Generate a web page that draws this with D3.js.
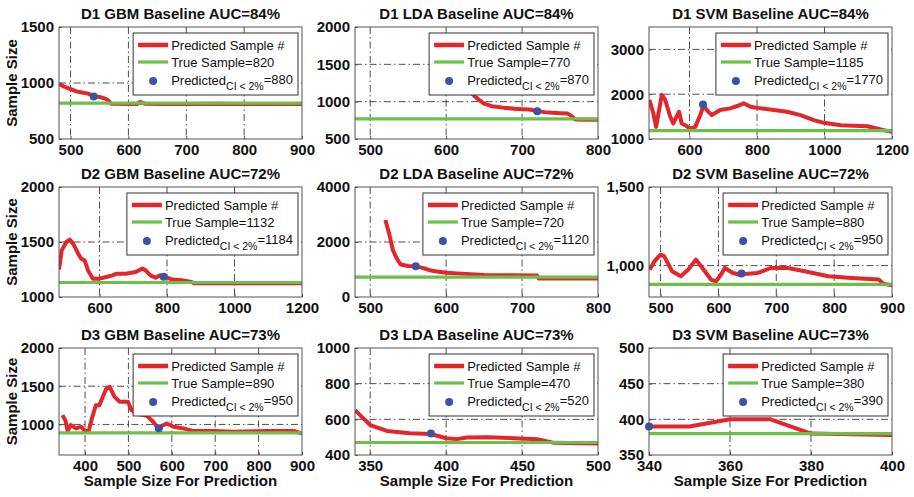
<!DOCTYPE html>
<html>
<head>
<meta charset="utf-8">
<script src="https://cdn.jsdelivr.net/npm/d3@7"></script>
<style>
body { margin: 0; background: #fff; }
text { font-family: Arial, "Liberation Sans", sans-serif; }
</style>
</head>
<body>
<script>
//Datos de cada panel (orden: D1 GBM, D1 LDA, D1 SVM, D2 ..., D3 ...)
var titulos = ["D1 GBM Baseline AUC=84%", "D1 LDA Baseline AUC=84%", "D1 SVM Baseline AUC=84%",
               "D2 GBM Baseline AUC=72%", "D2 LDA Baseline AUC=72%", "D2 SVM Baseline AUC=72%",
               "D3 GBM Baseline AUC=73%", "D3 LDA Baseline AUC=73%", "D3 SVM Baseline AUC=73%"];
var muestraReal = [820, 770, 1185, 1132, 720, 880, 890, 470, 380];
var prediccionCI = [880, 870, 1770, 1184, 1120, 950, 950, 520, 390];
var puntoX = [540, 720, 640, 790, 560, 640, 570, 390, 340];

var dominiosX = [[480, 900], [480, 800], [480, 1200], [480, 1200], [480, 800], [480, 900], [340, 900], [340, 500], [340, 400]];
var dominiosY = [[500, 1500], [500, 2000], [1000, 3500], [1000, 2000], [0, 4000], [800, 1500], [600, 2000], [400, 1000], [350, 500]];
var ticksX = [[500, 600, 700, 800, 900], [500, 600, 700, 800], [600, 800, 1000, 1200],
              [600, 800, 1000, 1200], [500, 600, 700, 800], [500, 600, 700, 800, 900],
              [400, 500, 600, 700, 800, 900], [350, 400, 450, 500], [340, 360, 380, 400]];
var ticksY = [[500, 1000, 1500], [500, 1000, 1500, 2000], [1000, 2000, 3000],
              [1000, 1500, 2000], [0, 2000, 4000], [1000, 1500],
              [1000, 1500, 2000], [400, 600, 800, 1000], [350, 400, 450, 500]];

//Curvas de tamaño de muestra predicho [x, y]
var predD1GBM = [[480, 990], [490, 965], [500, 945], [510, 925], [520, 915], [530, 905], [540, 885], [550, 875], [560, 860], [566, 840], [570, 815], [600, 812], [615, 812], [620, 832], [628, 815], [660, 812], [700, 812], [750, 815], [800, 812], [850, 812], [900, 812]];
var predD1LDA = [[610, 1500], [620, 1300], [630, 1150], [640, 1050], [650, 975], [660, 940], [675, 920], [690, 905], [700, 900], [710, 895], [720, 875], [730, 860], [740, 850], [750, 845], [760, 840], [765, 810], [770, 762], [785, 758], [800, 758]];
var predD1SVM = [[481, 1872], [493, 1571], [501, 1271], [518, 1985], [528, 1872], [543, 1496], [552, 1346], [569, 1609], [577, 1346], [587, 1308], [602, 1233], [617, 1271], [632, 1534], [642, 1759], [651, 1647], [666, 1534], [691, 1647], [721, 1684], [750, 1759], [760, 1797], [780, 1722], [810, 1684], [850, 1647], [889, 1609], [929, 1534], [968, 1421], [998, 1361], [1048, 1308], [1127, 1286], [1176, 1196], [1203, 1158]];
var predD2GBM = [[480, 1250], [488, 1424], [502, 1500], [512, 1521], [522, 1485], [537, 1394], [546, 1348], [556, 1333], [566, 1242], [580, 1167], [600, 1167], [620, 1182], [639, 1197], [649, 1212], [678, 1212], [707, 1227], [727, 1258], [737, 1242], [751, 1197], [766, 1176], [780, 1197], [795, 1182], [815, 1158], [844, 1152], [873, 1136], [880, 1125], [1200, 1125]];
var predD2LDA = [[520, 2800], [525, 2300], [530, 1700], [535, 1400], [540, 1180], [550, 1130], [560, 1120], [570, 1050], [580, 960], [590, 920], [600, 880], [620, 850], [650, 800], [680, 790], [720, 780], [722, 670], [800, 670]];
var predD2SVM = [[481, 974], [490, 1030], [500, 1070], [506, 1060], [520, 964], [535, 932], [548, 975], [561, 1038], [570, 996], [587, 911], [596, 900], [604, 940], [611, 985], [625, 953], [636, 943], [650, 948], [668, 953], [691, 985], [720, 985], [749, 964], [790, 932], [830, 921], [877, 911], [885, 885], [900, 874]];
var predD3GBM = [[348, 1122], [355, 1050], [360, 913], [367, 991], [379, 948], [391, 970], [398, 926], [408, 904], [417, 1100], [425, 1252], [433, 1252], [449, 1470], [457, 1491], [468, 1361], [480, 1296], [499, 1296], [507, 1187], [519, 1143], [542, 1113], [557, 1035], [569, 948], [580, 990], [588, 1013], [604, 970], [627, 948], [650, 913], [697, 913], [743, 904], [821, 913], [883, 913], [898, 883], [900, 880]];
var predD3LDA = [[340, 652], [345, 610], [350, 568], [361, 535], [376, 522], [390, 518], [400, 494], [407, 489], [414, 498], [427, 500], [445, 494], [460, 489], [471, 468], [500, 465]];
var predD3SVM = [[340, 390], [350, 390], [360, 400], [370, 400], [380, 380], [400, 378]];
var predicciones = [predD1GBM, predD1LDA, predD1SVM, predD2GBM, predD2LDA, predD2SVM, predD3GBM, predD3LDA, predD3SVM];

//Colores y disposición
var rojo = "#e3262b", verde = "#6cc04a", azul = "#3a52a8";
var colX = [59, 355, 649], filaY = [27, 187, 348], altos = [112, 110, 107], ancho = 243;

var svg = d3.select("body")
            .append("svg")
            .attr("width", 914)
            .attr("height", 497);

titulos.forEach(function(titulo, i) {
    var col = i % 3, fila = Math.floor(i / 3);
    var x0 = colX[col], y0 = filaY[fila], alto = altos[fila];

    var x = d3.scaleLinear().domain(dominiosX[i]).range([0, ancho]);
    var y = d3.scaleLinear().domain(dominiosY[i]).range([alto, 0]);
    var formato = i === 5 ? d3.format(",") : d3.format("d");

    var g = svg.append("g").attr("transform", "translate(" + x0 + "," + y0 + ")");

    g.append("clipPath").attr("id", "clip" + i)
     .append("rect").attr("width", ancho).attr("height", alto);

    //Rejilla punto-raya
    g.append("g").selectAll("line")
     .data(ticksX[i].filter(function(t) { return t > dominiosX[i][0] && t < dominiosX[i][1]; }))
     .enter().append("line")
     .attr("x1", function(d) { return x(d); }).attr("x2", function(d) { return x(d); })
     .attr("y1", 0).attr("y2", alto)
     .attr("stroke", "#222").attr("stroke-width", 0.8).attr("stroke-dasharray", "7,3,1.5,3");
    g.append("g").selectAll("line")
     .data(ticksY[i].filter(function(t) { return t > dominiosY[i][0] && t < dominiosY[i][1]; }))
     .enter().append("line")
     .attr("y1", function(d) { return y(d); }).attr("y2", function(d) { return y(d); })
     .attr("x1", 0).attr("x2", ancho)
     .attr("stroke", "#222").attr("stroke-width", 0.8).attr("stroke-dasharray", "7,3,1.5,3");

    //Curva roja, línea verde y punto azul
    var linea = d3.line().x(function(d) { return x(d[0]); }).y(function(d) { return y(d[1]); });
    var datos = g.append("g").attr("clip-path", "url(#clip" + i + ")");
    datos.append("path")
         .datum(predicciones[i])
         .attr("fill", "none").attr("stroke", rojo).attr("stroke-width", 4)
         .attr("stroke-linejoin", "round")
         .attr("d", linea);
    datos.append("path")
         .datum([[dominiosX[i][0], muestraReal[i]], [dominiosX[i][1], muestraReal[i]]])
         .attr("fill", "none").attr("stroke", verde).attr("stroke-width", 3.2)
         .attr("d", linea);
    g.append("circle")
     .attr("cx", x(puntoX[i])).attr("cy", y(prediccionCI[i])).attr("r", 4)
     .attr("fill", azul);

    //Marco y marcas de los ejes
    g.append("rect").attr("width", ancho).attr("height", alto)
     .attr("fill", "none").attr("stroke", "#555").attr("stroke-width", 1);

    g.append("g")
     .attr("transform", "translate(0," + alto + ")")
     .call(d3.axisBottom(x).tickValues(ticksX[i]).tickSize(-3).tickPadding(5).tickFormat(formato))
     .call(function(a) {
         a.select(".domain").remove();
         a.selectAll("line").attr("stroke", "#555");
         a.selectAll("text").attr("font-size", "15px").attr("font-weight", "bold")
          .attr("fill", "#111").attr("font-family", "Arial, 'Liberation Sans', sans-serif");
     });
    g.append("g")
     .call(d3.axisLeft(y).tickValues(ticksY[i]).tickSize(-3).tickPadding(5).tickFormat(formato))
     .call(function(a) {
         a.select(".domain").remove();
         a.selectAll("line").attr("stroke", "#555");
         a.selectAll("text").attr("font-size", "15px").attr("font-weight", "bold")
          .attr("fill", "#111").attr("font-family", "Arial, 'Liberation Sans', sans-serif");
     });

    //Título
    g.append("text")
     .attr("x", ancho / 2).attr("y", -8)
     .attr("text-anchor", "middle")
     .attr("font-size", "15px").attr("font-weight", "bold").attr("fill", "#111")
     .text(titulo);

    if (col === 0) {
        g.append("text")
         .attr("transform", "translate(-42," + (alto / 2) + ")rotate(-90)")
         .attr("text-anchor", "middle")
         .attr("font-size", "15px").attr("font-weight", "bold").attr("fill", "#111")
         .text("Sample Size");
    }
    if (fila === 2) {
        g.append("text")
         .attr("x", ancho / 2).attr("y", alto + 31)
         .attr("text-anchor", "middle")
         .attr("font-size", "15px").attr("font-weight", "bold").attr("fill", "#111")
         .text("Sample Size For Prediction");
    }

    //Leyenda
    var ley = g.append("g");
    var caja = ley.append("rect").attr("fill", "#fff").attr("stroke", "#333").attr("stroke-width", 1);
    ley.append("line").attr("x1", 5).attr("x2", 35).attr("y1", 12).attr("y2", 12)
       .attr("stroke", rojo).attr("stroke-width", 4.5);
    ley.append("line").attr("x1", 5).attr("x2", 35).attr("y1", 29).attr("y2", 29)
       .attr("stroke", verde).attr("stroke-width", 3.2);
    ley.append("circle").attr("cx", 20).attr("cy", 48).attr("r", 4).attr("fill", azul);

    var textos = [];
    textos.push(ley.append("text").attr("x", 38).attr("y", 16.5).attr("font-size", "13px").attr("fill", "#111")
                   .text("Predicted Sample #"));
    textos.push(ley.append("text").attr("x", 38).attr("y", 33.5).attr("font-size", "13px").attr("fill", "#111")
                   .text("True Sample=" + muestraReal[i]));
    var t3 = ley.append("text").attr("x", 38).attr("y", 52).attr("font-size", "13px").attr("fill", "#111");
    t3.append("tspan").text("Predicted");
    t3.append("tspan").attr("font-size", "10.5px").attr("dy", 5).text("CI < 2%");
    t3.append("tspan").attr("dy", -6).text("=" + prediccionCI[i]);
    textos.push(t3);

    var anchoLey = d3.max(textos, function(t) { return 38 + t.node().getComputedTextLength(); }) + 5;
    caja.attr("width", anchoLey).attr("height", 62);
    ley.attr("transform", "translate(" + (ancho - 4 - anchoLey) + ",6)");
});
</script>
</body>
</html>
